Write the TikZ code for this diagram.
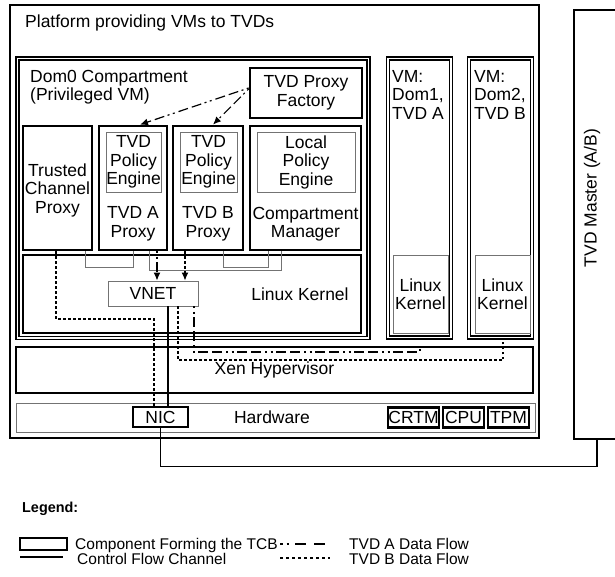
\documentclass[tikz,border=0pt]{standalone}
\usepackage{fontspec}
\setmainfont{Liberation Sans}
\usetikzlibrary{arrows.meta}
\begin{document}
\begin{tikzpicture}[x=1pt,y=-1pt,
  every node/.style={font=\fontsize{17.5}{18.5}\selectfont, inner sep=0pt, align=center},
  sz/.style 2 args={minimum width=#1pt, minimum height=#2pt},
  tcb/.style={draw, line width=2.8pt},
  comp/.style={draw, double, double distance=1.3pt, line width=1.7pt},
  graybox/.style={draw=black!55, line width=0.9pt},
  ctrl/.style={draw=black!55, line width=1pt},
  flowA/.style={draw, line width=2pt, dash pattern=on 2pt off 3.5pt on 2pt off 3.5pt on 10pt off 4pt on 10pt off 4pt},
  flowB/.style={draw, line width=2pt, dash pattern=on 2.5pt off 2.5pt},
  legfont/.style={font=\fontsize{15.5}{17}\selectfont},
  tip/.style={-{Latex[length=8pt,width=7pt]}}
]
\useasboundingbox (0,0) rectangle (615,576);
\clip (0,0) rectangle (615,576);

% platform
\node[tcb, line width=2.5pt, sz={529}{433}] (platform) at (274.5,221.5) {};
\node[anchor=base west] (ptitle) at (25,27) {Platform providing VMs to TVDs};

% Dom0
\node[comp, sz={351}{279.5}] (dom0) at (193,198.25) {};
\node[anchor=north west, align=left] (dom0t) at (30,70) {Dom0 Compartment\\(Privileged VM)};
\node[tcb, sz={112}{50}] (factory) at (306,93) {TVD Proxy\\Factory};

\node[tcb, sz={69}{124}] (tcp) at (57.5,188) {};
\node (tcpt) at (57.5,190) {Trusted\\Channel\\Proxy};

\node[tcb, sz={68}{124}] (pa) at (133,188) {};
\node[graybox, sz={55}{60}] (pea) at (133.5,162) {TVD\\Policy\\Engine};
\node (pat) at (133,224) {TVD A\\Proxy};

\node[tcb, sz={70}{124}] (pb) at (208,188) {};
\node[graybox, sz={57}{60}] (peb) at (208.5,162) {TVD\\Policy\\Engine};
\node (pbt) at (208,224) {TVD B\\Proxy};

\node[tcb, sz={111}{124}] (cm) at (305.5,188) {};
\node[graybox, sz={98}{60}] (lpe) at (306,162) {Local\\Policy\\Engine};
\node (cmt) at (305.5,224) {Compartment\\Manager};

\node[tcb, sz={338}{78}] (lk0) at (192,294) {};
\node (lk0t) at (300,294) {Linux Kernel};
\node[graybox, sz={90}{25}] (vnet) at (153,293.5) {VNET};

% VMs
\node[comp, sz={63}{279}] (dom1) at (419.5,198) {};
\node[anchor=north west, align=left] (dom1t) at (392,70) {VM:\\Dom1,\\TVD A};
\node[graybox, sz={55}{78}] (lk1) at (420.5,294) {Linux\\Kernel};

\node[comp, sz={63}{279}] (dom2) at (500.5,198) {};
\node[anchor=north west, align=left] (dom2t) at (474,70) {VM:\\Dom2,\\TVD B};
\node[graybox, sz={55}{78}] (lk2) at (502.5,294) {Linux\\Kernel};

% Xen and hardware
\node[tcb, sz={517}{46}] (xen) at (274.5,370) {Xen Hypervisor};
\node[graybox, sz={519}{29}] (hw) at (275.5,417.5) {};
\node (hwt) at (272,417.5) {Hardware};
\node[tcb, sz={55}{20}] (nic) at (160.5,417) {NIC};
\node[tcb, sz={51}{20}] (crtm) at (413.5,417.5) {CRTM};
\node[tcb, sz={41}{20}] (cpu) at (463.5,417.5) {CPU};
\node[tcb, sz={41}{20}] (tpm) at (508.5,417.5) {TPM};

% TVD master
\node[tcb, sz={51}{429}] (master) at (599.5,224.5) {};
\node[rotate=90] (mastert) at (592,198) {TVD Master (A/B)};

% factory arrows
\draw[flowA, line width=1.2pt, tip] ([yshift=5pt]factory.west) -- ([xshift=7pt]pa.north);
\draw[flowA, line width=1.2pt, tip] ([yshift=4pt]factory.west) -- ([xshift=5pt]pb.north);

% control flow
\draw[ctrl] ([xshift=27.5pt]tcp.south) -- ++(0,16) -| (pa.south);
\draw[ctrl] ([xshift=16pt]pa.south) -- ++(0,19) -| ([xshift=-24.5pt]cm.south);
\draw[ctrl] ([xshift=15pt]pb.south) -- ++(0,16) -| ([xshift=-37.5pt]cm.south);

% proxies to VNET
\draw[flowA, line width=1.2pt, tip] ([xshift=24pt]pa.south) -- ([xshift=24pt]pa.south |- vnet.north);
\draw[flowB, line width=1.2pt, tip] ([xshift=-23pt]pb.south) -- ([xshift=-23pt]pb.south |- vnet.north);

% data flows
\draw[flowB] ([xshift=-1.5pt]tcp.south) -- ++(0,68) -| ([xshift=-6.5pt]nic.north);
\draw[line width=1.4pt] ([xshift=15pt]vnet.south) -- ([xshift=15pt]vnet.south |- nic.north);
\draw[flowB] ([xshift=25pt]vnet.south) -- ++(0,54) -| ([xshift=2.5pt]dom2.south);
\draw[flowA] ([xshift=41pt]vnet.south) -- ++(0,46) -| (dom1.south |- xen.north);

% NIC to master
\draw[line width=1.8pt] (nic.south) -- ++(0,38) -| ([xshift=-2.5pt]master.south);

% legend
\node[font=\fontsize{14.4}{16}\selectfont\bfseries, anchor=base west] (legt) at (22,512) {Legend:};
\node[draw, line width=2.8pt, sz={47}{12}] (legbox) at (43.5,544) {};
\node[legfont, anchor=base west] (leg1) at (75,549) {Component Forming the TCB};
\coordinate (l2a) at (20,557);
\coordinate (l2b) at (63,557);
\draw[line width=1.5pt] (l2a) -- (l2b);
\node[legfont, anchor=base west] (leg2) at (77,564) {Control Flow Channel};
\coordinate (l3a) at (280,544);
\coordinate (l3b) at (330,544);
\draw[line width=1.5pt, dash pattern=on 2.5pt off 4pt on 2.5pt off 6pt on 11pt off 8pt on 11pt off 20pt] (l3a) -- (l3b);
\node[legfont, anchor=base west] (leg3) at (349,549) {TVD A Data Flow};
\coordinate (l4a) at (280,558);
\coordinate (l4b) at (330,558);
\draw[line width=1.5pt, dash pattern=on 2.5pt off 3.5pt] (l4a) -- (l4b);
\node[legfont, anchor=base west] (leg4) at (349,564) {TVD B Data Flow};
\end{tikzpicture}
\end{document}
